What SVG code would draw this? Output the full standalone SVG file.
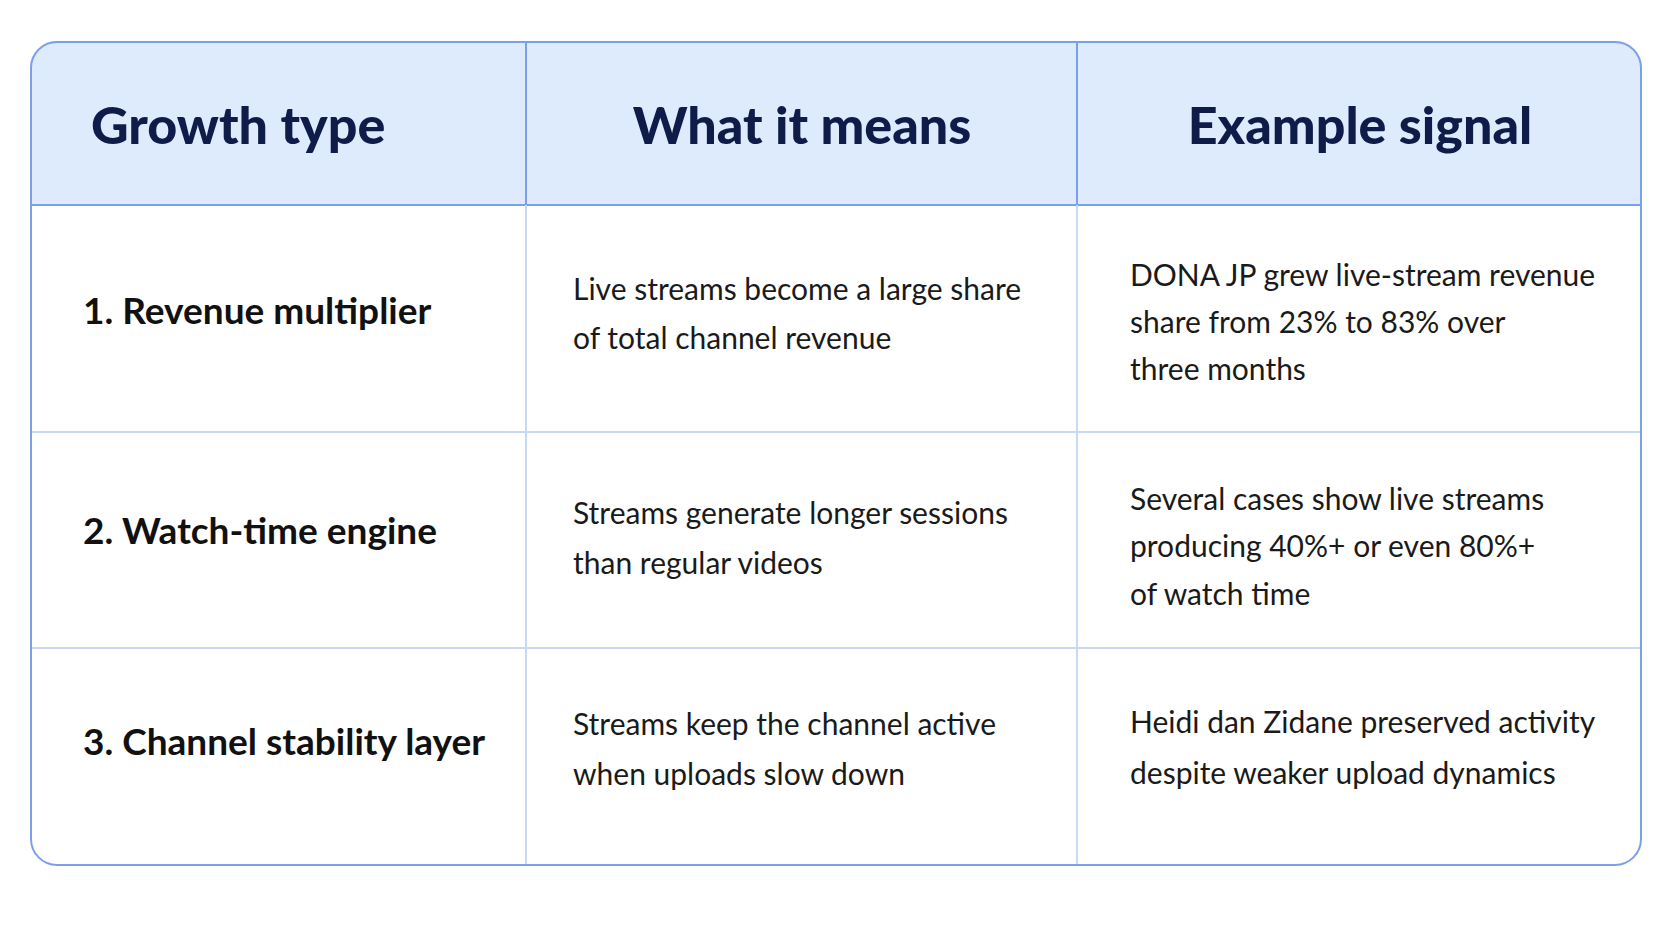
<svg xmlns="http://www.w3.org/2000/svg" width="1672" height="941" viewBox="0 0 1672 941">
<style>
.h{font-family:Lato,"Noto Sans",sans-serif;font-weight:900;font-size:52px;fill:#0f1c4a}
.l{font-family:Lato,"Noto Sans",sans-serif;font-weight:700;font-size:37px;fill:#111}
.t{font-family:Lato,"Noto Sans",sans-serif;font-size:30px;fill:#1a1a1a}
.g{stroke:#c9d9f5;stroke-width:2}
.b{stroke:#7aa0ea;stroke-width:2}
</style>
<rect width="1672" height="941" fill="#fff"/>
<defs><clipPath id="c"><rect x="30" y="41" width="1612" height="825" rx="26"/></clipPath></defs>
<g id="table">
<rect x="30" y="41" width="1612" height="164" fill="#deebfd" clip-path="url(#c)"/>
<line class="g" x1="30" y1="432" x2="1642" y2="432"/>
<line class="g" x1="30" y1="648" x2="1642" y2="648"/>
<line class="b" x1="30" y1="205" x2="1642" y2="205"/>
<line class="b" x1="526" y1="41" x2="526" y2="205"/>
<line class="b" x1="1077" y1="41" x2="1077" y2="205"/>
<line class="g" x1="526" y1="205" x2="526" y2="866"/>
<line class="g" x1="1077" y1="205" x2="1077" y2="866"/>
<rect x="31" y="42" width="1610" height="823" rx="26" fill="none" class="b"/>
</g>
<g id="header">
<text class="h" x="91" y="144">Growth type</text>
<text class="h" x="802" y="144" text-anchor="middle">What it means</text>
<text class="h" x="1360" y="144" text-anchor="middle">Example signal</text>
</g>
<g id="row1">
<text class="l" x="83" y="324">1. Revenue multiplier</text>
<text class="t" x="573" y="300">Live streams become a large share</text>
<text class="t" x="573" y="349">of total channel revenue</text>
<text class="t" x="1130" y="286">DONA JP grew live-stream revenue</text>
<text class="t" x="1130" y="333">share from 23% to 83% over</text>
<text class="t" x="1130" y="380">three months</text>
</g>
<g id="row2">
<text class="l" x="83" y="544">2. Watch-time engine</text>
<text class="t" x="573" y="524">Streams generate longer sessions</text>
<text class="t" x="573" y="574">than regular videos</text>
<text class="t" x="1130" y="510">Several cases show live streams</text>
<text class="t" x="1130" y="557">producing 40%+ or even 80%+</text>
<text class="t" x="1130" y="605">of watch time</text>
</g>
<g id="row3">
<text class="l" x="83" y="755">3. Channel stability layer</text>
<text class="t" x="573" y="735">Streams keep the channel active</text>
<text class="t" x="573" y="785">when uploads slow down</text>
<text class="t" x="1130" y="733">Heidi dan Zidane preserved activity</text>
<text class="t" x="1130" y="784">despite weaker upload dynamics</text>
</g>
</svg>
